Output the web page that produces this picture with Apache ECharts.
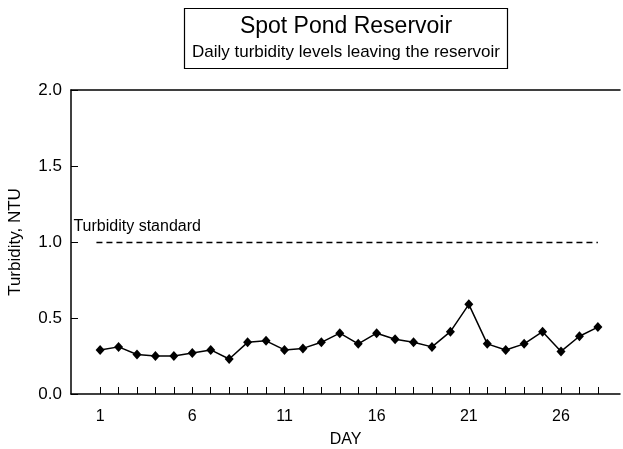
<!DOCTYPE html>
<html>
<head>
<meta charset="utf-8">
<script src="https://cdn.jsdelivr.net/npm/echarts@6/dist/echarts.min.js"></script>
<style>
  html, body { margin: 0; padding: 0; background: #fff; }
  #chart { width: 623px; height: 449px; }
</style>
</head>
<body>
<div id="chart"></div>
<script>
// daily turbidity (NTU) leaving the reservoir, days 1..28
const days = [1, 2, 3, 4, 5, 6, 7, 8, 9, 10, 11, 12, 13, 14, 15, 16, 17, 18, 19, 20, 21, 22, 23, 24, 25, 26, 27, 28];
const turbidity = [0.29, 0.31, 0.26, 0.25, 0.25, 0.27, 0.29, 0.23, 0.34, 0.35, 0.29, 0.30, 0.34, 0.40, 0.33, 0.40,
    0.36, 0.34, 0.31, 0.41, 0.59, 0.33, 0.29, 0.33, 0.41, 0.28, 0.38, 0.44];
const dayLabels = [1, 6, 11, 16, 21, 26];
const standard = 1.0;

const font = 'Liberation Sans, Arial, sans-serif';
const chart = echarts.init(document.getElementById('chart'));

const option = {
    animation: false,
    title: {
        text: 'Spot Pond Reservoir',
        subtext: 'Daily turbidity levels leaving the reservoir',
        left: 338,
        top: 8,
        textAlign: 'center',
        borderColor: '#000',
        borderWidth: 1.2,
        padding: [7, 8, 8, 8],
        itemGap: 6,
        textStyle: { fontFamily: font, fontSize: 23, fontWeight: 'normal', color: '#000' },
        subtextStyle: { fontFamily: font, fontSize: 17, color: '#000' }
    },
    grid: { left: 71, top: 90, right: 3, bottom: 55, outerBoundsMode: 'none' },
    xAxis: [{
        type: 'value',
        min: -0.58,
        max: 29.2,
        name: 'DAY',
        nameLocation: 'middle',
        nameGap: 38,
        nameTextStyle: { fontFamily: font, fontSize: 16, color: '#000' },
        axisLine: { lineStyle: { color: '#000', width: 1.5 } },
        axisTick: { inside: true, length: 7, customValues: days, lineStyle: { color: '#000' } },
        axisLabel: { customValues: dayLabels, fontFamily: font, fontSize: 16, color: '#000', margin: 15 },
        splitLine: { show: false }
    }, {
        type: 'value',
        position: 'top',
        min: -0.58,
        max: 29.2,
        axisLine: { show: true, lineStyle: { color: '#000', width: 1.5 } },
        axisTick: { show: false },
        axisLabel: { show: false },
        splitLine: { show: false }
    }],
    yAxis: {
        type: 'value',
        min: 0,
        max: 2,
        interval: 0.5,
        name: 'Turbidity, NTU',
        nameLocation: 'middle',
        nameGap: 47,
        nameTextStyle: { fontFamily: font, fontSize: 17, color: '#000' },
        axisLine: { show: true, onZero: false, lineStyle: { color: '#000', width: 1.5 } },
        axisTick: { inside: true, length: 7, lineStyle: { color: '#000' } },
        axisLabel: { fontFamily: font, fontSize: 17, color: '#000', margin: 9,
            formatter: v => v.toFixed(1) },
        splitLine: { show: false }
    },
    series: [{
        type: 'line',
        data: days.map((d, i) => [d, turbidity[i]]),
        symbol: 'diamond',
        symbolSize: [9, 10],
        itemStyle: { color: '#000' },
        lineStyle: { color: '#000', width: 1.5 },
        markLine: {
            silent: true,
            symbol: 'none',
            lineStyle: { color: '#000', type: [6, 4], width: 1.3 },
            label: {
                show: true,
                position: 'insideStartTop',
                formatter: 'Turbidity standard',
                fontFamily: font,
                fontSize: 16,
                color: '#000',
                offset: [-30, 0],
                distance: 7
            },
            data: [[{ coord: [0.8, standard] }, { coord: [28, standard] }]]
        }
    }]
};

chart.setOption(option);
</script>
</body>
</html>
